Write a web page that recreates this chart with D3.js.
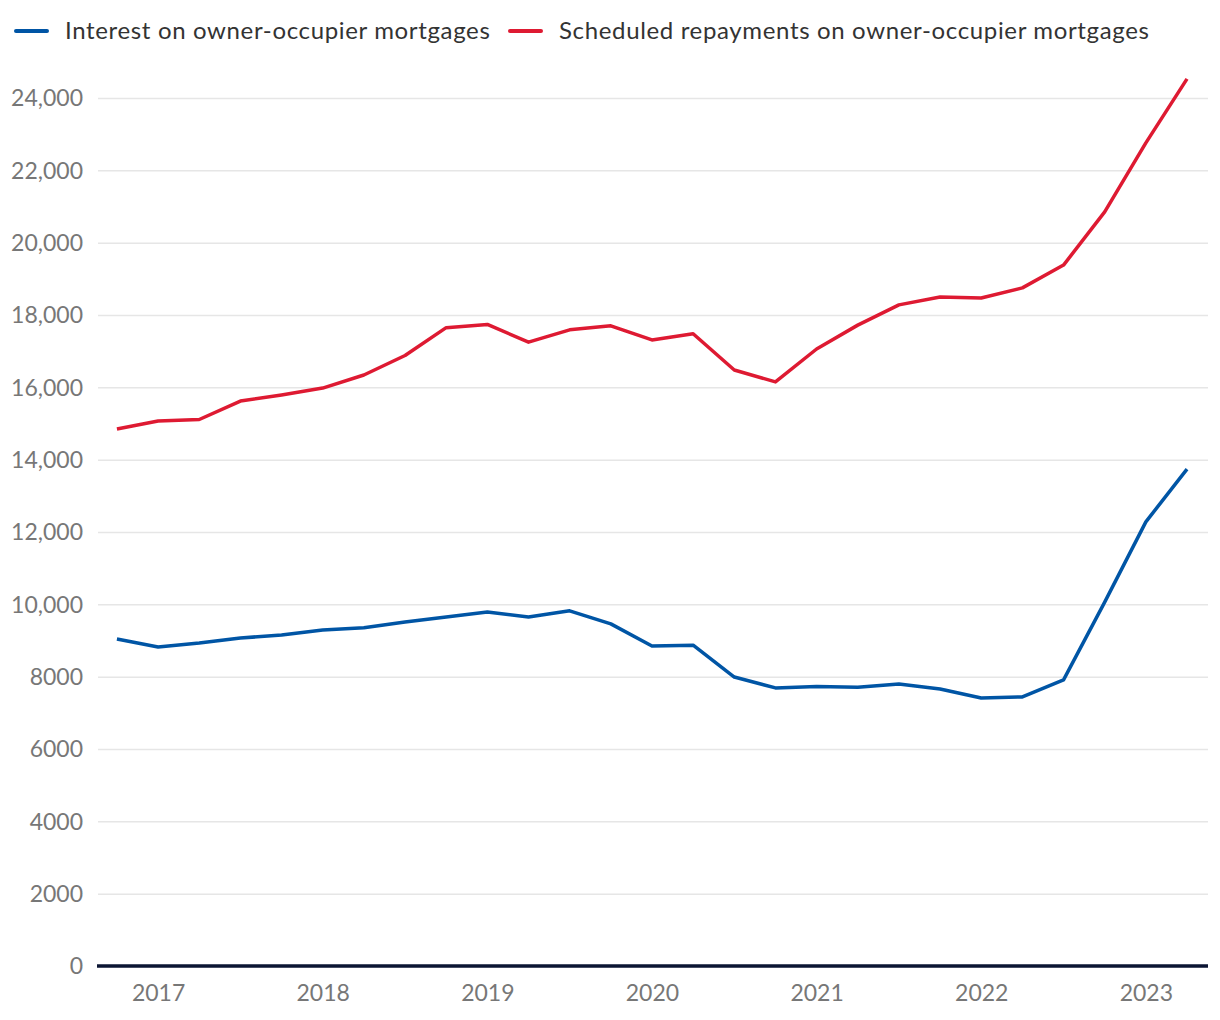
<!DOCTYPE html>
<html><head><meta charset="utf-8">
<script src="https://cdn.jsdelivr.net/npm/d3@7"></script>
<style>body{margin:0;background:#fff;} svg{display:block;}</style>
</head><body>
<svg id="c" width="1220" height="1020"></svg>
<script>
const quarters = ["2016-Q4","2017-Q1","2017-Q2","2017-Q3","2017-Q4","2018-Q1","2018-Q2","2018-Q3","2018-Q4","2019-Q1","2019-Q2","2019-Q3","2019-Q4","2020-Q1","2020-Q2","2020-Q3","2020-Q4","2021-Q1","2021-Q2","2021-Q3","2021-Q4","2022-Q1","2022-Q2","2022-Q3","2022-Q4","2023-Q1","2023-Q2"];
const interest = [9040,8820,8930,9070,9150,9290,9350,9510,9650,9790,9650,9820,9460,8850,8870,7990,7690,7730,7710,7800,7660,7410,7440,7910,10060,12280,13740];
const repayments = [14850,15070,15110,15620,15790,15980,16340,16880,17650,17740,17250,17590,17700,17310,17480,16480,16150,17060,17720,18280,18500,18470,18750,19380,20850,22760,24530];
const yTicks = [0,2000,4000,6000,8000,10000,12000,14000,16000,18000,20000,22000,24000];
const xTickLabels = ["2017","2018","2019","2020","2021","2022","2023"];
const xTickQuarters = ["2017-Q1","2018-Q1","2019-Q1","2020-Q1","2021-Q1","2022-Q1","2023-Q1"];
const seriesNames = ["Interest on owner-occupier mortgages","Scheduled repayments on owner-occupier mortgages"];
const seriesColors = ["#0055a5","#de1a32"];

const svg = d3.select("#c");
const font = "Lato, 'PT Sans', sans-serif";
const L = 98, R = 1208, T = 98, B = 966;
const x = d3.scaleLinear().domain([-0.46, quarters.length - 1 + 0.51]).range([L, R]);
const y = d3.scaleLinear().domain([0, 24000]).range([B, T]);

const fmt = v => v >= 10000 ? d3.format(",")(v) : String(v);

// grid
const yAxis = d3.axisLeft(y).tickValues(yTicks).tickSize(-(R - L)).tickFormat(fmt).tickPadding(15);
const gy = svg.append("g").attr("transform", `translate(${L},0)`).call(yAxis);
gy.select(".domain").remove();
gy.selectAll(".tick line").attr("stroke", "#e6e6e6").attr("stroke-width", 1.5);
gy.selectAll(".tick text").attr("fill", "#777").style("font-family", font).style("font-size", "23px").attr("dy", "0.34em");

// x axis
const idx = q => quarters.indexOf(q);
const xAxis = d3.axisBottom(x).tickValues(xTickQuarters.map(idx)).tickSize(0).tickPadding(19)
  .tickFormat((d, i) => xTickLabels[i]);
const gx = svg.append("g").attr("transform", `translate(0,${B})`).call(xAxis);
gx.select(".domain").remove();
gx.selectAll(".tick text").attr("fill", "#777").style("font-family", font).style("font-size", "23px");

// lines
const line = d3.line().x((d, i) => x(i)).y(d => y(d));
[interest, repayments].forEach((s, k) => {
  svg.append("path").datum(s).attr("d", line).attr("fill", "none")
    .attr("stroke", seriesColors[k]).attr("stroke-width", 3.5).attr("stroke-linejoin", "round");
});

// baseline
svg.append("line").attr("x1", L - 1).attr("x2", R).attr("y1", y(0)).attr("y2", y(0))
  .attr("stroke", "#0b1533").attr("stroke-width", 3.5);

// legend
const legX = [16, 510];
seriesNames.forEach((n, k) => {
  const g = svg.append("g").attr("transform", `translate(${legX[k]},31)`);
  g.append("line").attr("x1", 0).attr("x2", 31).attr("stroke", seriesColors[k]).attr("stroke-width", 4).attr("stroke-linecap", "round");
  g.append("text").attr("x", 49).attr("dy", "0.35em").text(n).attr("fill", "#333")
    .style("font-family", font).style("font-size", "24px").style("letter-spacing", "0.65px");
});
</script>
</body></html>
